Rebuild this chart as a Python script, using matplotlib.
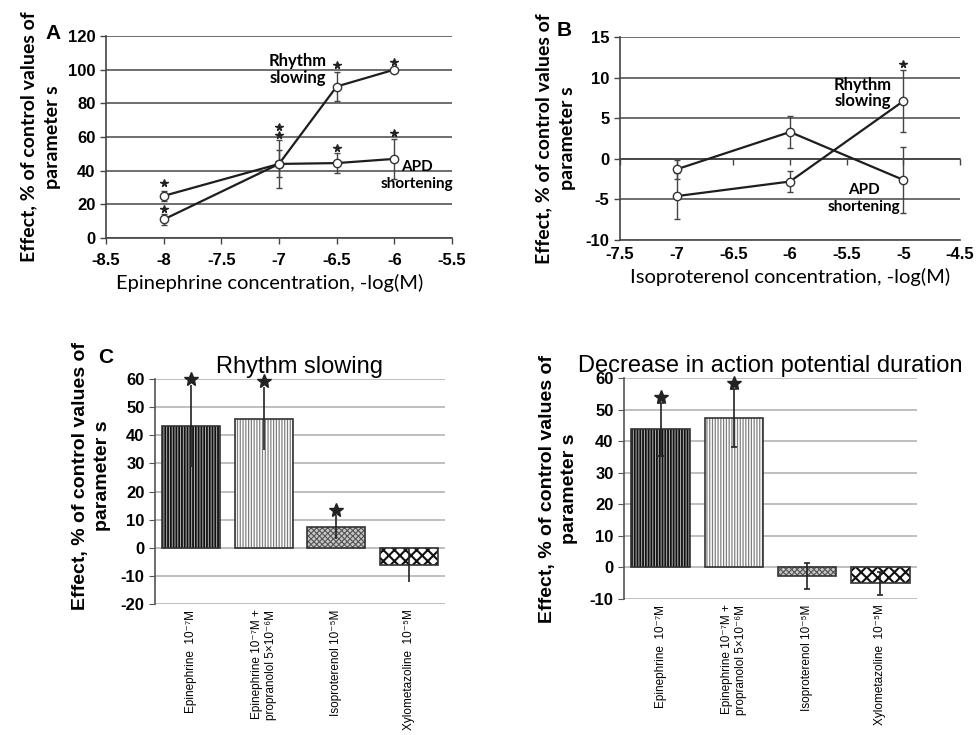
import matplotlib
matplotlib.use("Agg")
import matplotlib.pyplot as plt
import numpy as np

plt.rcParams["font.family"] = ["Liberation Sans", "DejaVu Sans"]
plt.rcParams["axes.unicode_minus"] = False

# ---- panel A: epinephrine dose response
epi_conc = [-8, -7, -6.5, -6]
epi_rhythm = [11, 44, 90, 100]
epi_rhythm_err = [3.5, 14.5, 8.5, 1.0]
epi_apd = [25, 44, 44.5, 47]
epi_apd_err = [3.0, 8.0, 6.0, 12.0]
epi_star_conc = [-8, -8, -7, -7, -6.5, -6.5, -6, -6]
epi_star_y = [32.5, 17, 66, 61, 103, 53.5, 104.5, 62.5]

# ---- panel B: isoproterenol dose response
iso_conc = [-7, -6, -5]
iso_rhythm = [-4.6, -2.8, 7.1]
iso_rhythm_err = [2.8, 1.3, 3.8]
iso_apd = [-1.3, 3.3, -2.6]
iso_apd_err = [1.2, 2.0, 4.1]
iso_star_conc = [-5]
iso_star_y = [11.7]

# ---- panels C / D: bar charts
drug_labels = [
    "Epinephrine  10\u207b\u2077M",
    "Epinephrine 10\u207b\u2077M +\npropranolol 5\u00d710\u207b\u2076M",
    "Isoproterenol 10\u207b\u2075M",
    "Xylometazoline  10\u207b\u2075M",
]
rhythm_vals = [43.3, 45.9, 7.3, -6.2]
rhythm_err = [14.6, 11.3, 4.2, 6.0]
rhythm_star = [60.0, 59.3, 13.4, None]

apd_vals = [43.7, 47.3, -2.6, -5.0]
apd_err = [8.3, 9.2, 4.1, 3.7]
apd_star = [54.0, 58.4, None, None]

YLABEL = "Effect, % of control values of\nparameter s"
CALIBRI = ["Lato", "DejaVu Sans"]
ARIAL = ["Liberation Sans", "DejaVu Sans"]

BAR_STYLES = [
    dict(facecolor="#b5b5b5", hatchcolor="#111111", hatch="||||||", hlw=1.3),
    dict(facecolor="white", hatchcolor="#808080", hatch="||||||", hlw=0.9),
    dict(facecolor="#c8c8c8", hatchcolor="#555555", hatch="xxxxxx", hlw=0.8),
    dict(facecolor="white", hatchcolor="#111111", hatch="xxx", hlw=1.5),
]

fig = plt.figure(figsize=(9.76, 7.35), dpi=100)


def dose_panel(ax, conc, rhythm, rhythm_err, apd, apd_err, star_x, star_y):
    for y, err in ((rhythm, rhythm_err), (apd, apd_err)):
        ax.errorbar(conc, y, yerr=err, fmt="none", ecolor="#444444",
                    elinewidth=1.0, capsize=2.5, capthick=1.0, zorder=3)
        ax.plot(conc, y, color="#1e1e1e", lw=1.6, marker="o", ms=6,
                mfc="white", mec="#333333", mew=1.0, zorder=4)
    ax.plot(star_x, star_y, ls="none", marker="*", ms=5.5, color="#222222",
            zorder=5, clip_on=False)
    ax.grid(axis="y", color="#555555", lw=1.2)
    ax.set_axisbelow(True)
    for side in ("top", "right"):
        ax.spines[side].set_visible(False)
    ax.spines["left"].set_color("#444444")
    ax.spines["bottom"].set_color("#444444")
    ax.spines["left"].set_linewidth(1.2)
    ax.spines["bottom"].set_linewidth(1.2)
    ax.tick_params(axis="both", direction="out", length=4, width=1.0,
                   color="#444444", labelsize=12)
    ax.tick_params(axis="x", pad=7)
    ax.set_ylabel(YLABEL, fontsize=14, fontweight="bold", family=CALIBRI,
                  linespacing=1.45)


# ---------------- A
axA = fig.add_axes([0.1086, 0.6762, 0.3545, 0.2748])
dose_panel(axA, epi_conc, epi_rhythm, epi_rhythm_err, epi_apd, epi_apd_err,
           epi_star_conc, epi_star_y)
axA.set_xlim(-8.5, -5.5)
axA.set_ylim(0, 120)
axA.set_xticks(np.arange(-8.5, -5.4, 0.5))
axA.set_xticklabels(["-8.5", "-8", "-7.5", "-7", "-6.5", "-6", "-5.5"])
axA.set_yticks(range(0, 121, 20))
for lab in axA.get_xticklabels() + axA.get_yticklabels():
    lab.set_fontweight("bold")
axA.set_xlabel("Epinephrine concentration, -log(M)", fontsize=14.5,
               family=CALIBRI)
axA.xaxis.set_label_coords(0.474, -0.18)
axA.yaxis.set_label_coords(-0.13, 0.5)
axA.text(-6.84, 100, "Rhythm\nslowing", ha="center", va="center", fontsize=12,
         fontweight="bold", family=CALIBRI, linespacing=1.05)
axA.text(-5.8, 37, "APD\nshortening", ha="center", va="center", fontsize=11,
         fontweight="bold", family=CALIBRI, linespacing=1.3)
fig.text(0.054, 0.955, "A", fontsize=15, fontweight="bold", ha="center", va="center")

# ---------------- B
axB = fig.add_axes([0.6352, 0.6735, 0.3484, 0.2762])
dose_panel(axB, iso_conc, iso_rhythm, iso_rhythm_err, iso_apd, iso_apd_err,
           iso_star_conc, iso_star_y)
axB.set_xlim(-7.5, -4.5)
axB.set_ylim(-10, 15)
axB.set_yticks(range(-10, 16, 5))
b_ticks = np.arange(-7.5, -4.4, 0.5)
b_labels = ["-7.5", "-7", "-6.5", "-6", "-5.5", "-5", "-4.5"]
axB.spines["bottom"].set_position(("data", 0))
axB.set_xticks(b_ticks)
axB.tick_params(axis="x", labelbottom=False)
secB = axB.secondary_xaxis(0.0)
secB.set_xticks(b_ticks)
secB.set_xticklabels(b_labels, fontweight="bold", fontsize=12)
secB.tick_params(length=0, pad=5)
secB.spines["bottom"].set_color("#444444")
secB.spines["bottom"].set_linewidth(1.2)
secB.set_xlabel("Isoproterenol concentration, -log(M)", fontsize=14.5,
                family=CALIBRI, labelpad=4)
for lab in axB.get_yticklabels():
    lab.set_fontweight("bold")
axB.yaxis.set_label_coords(-0.13, 0.5)
axB.text(-5.36, 8.1, "Rhythm\nslowing", ha="center", va="center", fontsize=12,
         fontweight="bold", family=CALIBRI, linespacing=1.05)
axB.text(-5.35, -4.85, "APD\nshortening", ha="center", va="center", fontsize=11,
         fontweight="bold", family=CALIBRI, linespacing=1.3)
fig.text(0.578, 0.958, "B", fontsize=15, fontweight="bold", ha="center", va="center")


def bar_panel(ax, vals, errs, stars, ylim, title, caps):
    x = np.arange(len(vals))
    for i, st in enumerate(BAR_STYLES):
        with plt.rc_context({"hatch.linewidth": st["hlw"]}):
            ax.bar(x[i], vals[i], width=0.8, facecolor=st["facecolor"],
                   edgecolor=st["hatchcolor"], hatch=st["hatch"], linewidth=0,
                   zorder=2)
    ax.bar(x, vals, width=0.8, fill=False, edgecolor="#333333", linewidth=1.2,
           zorder=3)
    ax.errorbar(x, vals, yerr=errs, fmt="none", ecolor="#222222",
                elinewidth=1.2, capsize=caps, capthick=1.2, zorder=4)
    sx = [xi for xi, s in zip(x, stars) if s is not None]
    sy = [s for s in stars if s is not None]
    ax.plot(sx, sy, ls="none", marker="*", ms=10, color="#222222", zorder=5,
            clip_on=False)
    ax.set_xlim(-0.5, len(vals) - 0.5)
    ax.set_ylim(*ylim)
    ax.set_yticks(range(ylim[0], ylim[1] + 1, 10))
    ax.grid(axis="y", color="#b4b4b4", lw=1.2)
    ax.set_axisbelow(True)
    for side in ("top", "right", "bottom"):
        ax.spines[side].set_visible(False)
    ax.spines["left"].set_color("#555555")
    ax.spines["left"].set_linewidth(1.2)
    ax.tick_params(axis="y", direction="out", length=4, color="#555555",
                   labelsize=12)
    for lab in ax.get_yticklabels():
        lab.set_fontweight("bold")
    ax.set_xticks(x)
    ax.set_xticklabels(drug_labels, rotation=90, ha="center", va="top",
                       multialignment="right", fontsize=8.5, family=ARIAL)
    ax.tick_params(axis="x", length=0, pad=4)
    ax.set_title(title, fontsize=17, pad=4)
    ax.set_ylabel(YLABEL, fontsize=14, fontweight="bold", linespacing=1.4)


# ---------------- C
axC = fig.add_axes([0.1588, 0.1782, 0.2971, 0.3061])
bar_panel(axC, rhythm_vals, rhythm_err, rhythm_star, (-20, 60),
          "Rhythm slowing", 0)
axC.yaxis.set_label_coords(-0.152, 0.569)
fig.text(0.108, 0.514, "C", fontsize=15, fontweight="bold", ha="center", va="center")

# ---------------- D
axD = fig.add_axes([0.6393, 0.1850, 0.3002, 0.3007])
bar_panel(axD, apd_vals, apd_err, apd_star, (-10, 60),
          "Decrease in action potential duration", 2.5)
axD.yaxis.set_label_coords(-0.157, 0.5)

fig.savefig("out.png", dpi=100)
